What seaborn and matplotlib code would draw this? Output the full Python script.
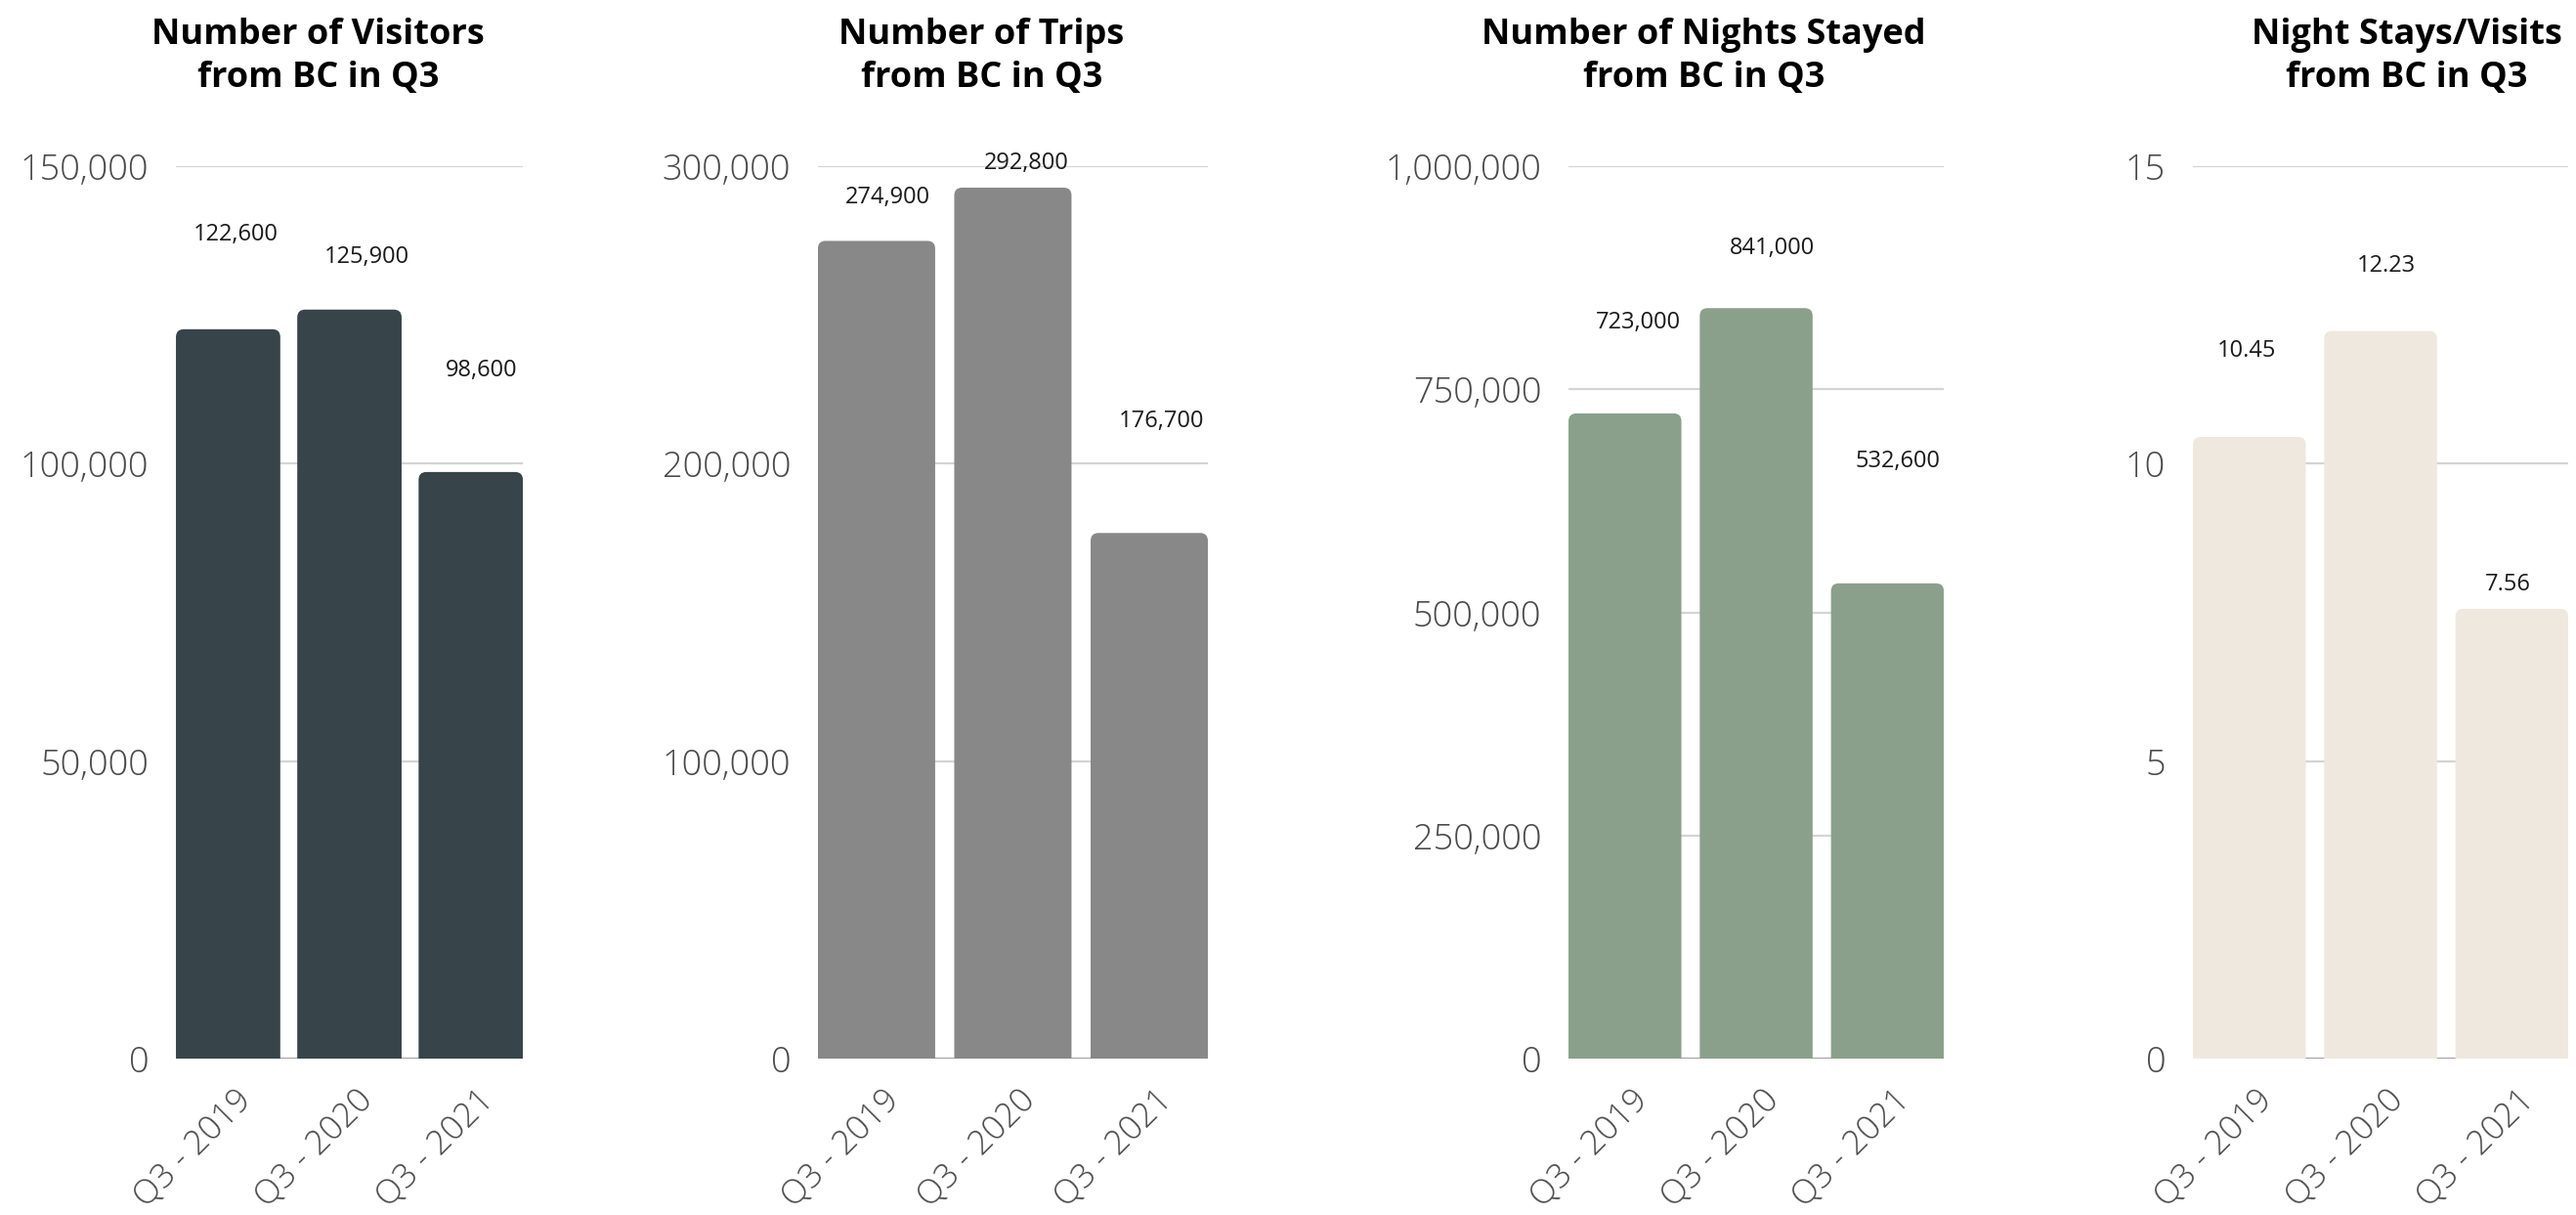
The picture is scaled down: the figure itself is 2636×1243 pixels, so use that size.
import matplotlib
matplotlib.use("Agg")
import matplotlib.pyplot as plt
import matplotlib.transforms as mtransforms
import numpy as np
import seaborn as sns
from matplotlib.patches import FancyBboxPatch
from matplotlib.ticker import FuncFormatter

# data
periods = ["Q3 - 2019", "Q3 - 2020", "Q3 - 2021"]
visitors = [122600, 125900, 98600]
trips = [274900, 292800, 176700]
nights = [723000, 841000, 532600]
nights_per_visit = [10.45, 12.23, 7.56]

titles = [
    "Number of Visitors\nfrom BC in Q3",
    "Number of Trips\nfrom BC in Q3",
    "Number of Nights Stayed\nfrom BC in Q3",
    "Night Stays/Visits\nfrom BC in Q3",
]
value_labels = [
    ["122,600", "125,900", "98,600"],
    ["274,900", "292,800", "176,700"],
    ["723,000", "841,000", "532,600"],
    ["10.45", "12.23", "7.56"],
]
y_ticks = [
    [0, 50000, 100000, 150000],
    [0, 100000, 200000, 300000],
    [0, 250000, 500000, 750000, 1000000],
    [0, 5, 10, 15],
]

# styling / layout
colors = ["#37454a", "#888888", "#8aa08a", "#efe8df"]
axes_pos = [
    [0.0683, 0.1287, 0.1347, 0.7345],
    [0.3175, 0.1287, 0.1514, 0.7345],
    [0.6089, 0.1287, 0.1457, 0.7345],
    [0.8513, 0.1287, 0.1457, 0.7345],
]
title_x = [0.41, 0.42, 0.36, 0.57]
# label offsets (points) from bar top centre
label_dx = [[6, 13, 8], [8, 10, 9], [10, 12, 8], [-2, 4, -3]]
label_dy = [[70, 39, 75], [32, 18, 82], [67, 44, 90], [63, 48, 18]]
bar_width = 0.86

sns.set_theme(style="white")
plt.rcParams["font.family"] = ["Open Sans", "DejaVu Sans"]

fig = plt.figure(figsize=(26.36, 12.43), dpi=100)

series = [visitors, trips, nights, nights_per_visit]
xlab_shift = mtransforms.ScaledTranslation(18 / 100, -18 / 100, fig.dpi_scale_trans)

for i, vals in enumerate(series):
    ax = fig.add_axes(axes_pos[i])
    sns.barplot(x=periods, y=vals, color=colors[i], width=bar_width,
                saturation=1, ax=ax, zorder=2)
    ax.set_xlim(-bar_width / 2, len(periods) - 1 + bar_width / 2)
    ax.set_ylim(0, y_ticks[i][-1])
    ax.set_yticks(y_ticks[i])
    if i < 3:
        ax.yaxis.set_major_formatter(FuncFormatter(lambda v, p: f"{int(v):,}"))
    ax.grid(axis="y", color="#d4d4d4", linewidth=1.6)
    ax.set_axisbelow(True)
    for s in ax.spines.values():
        s.set_visible(False)
    ax.axhline(0, color="#9a9a9a", linewidth=2, zorder=1)

    ax.tick_params(axis="y", length=0, pad=20, labelsize=26, labelcolor="#4a4a4a")
    ax.tick_params(axis="x", length=0, pad=14, labelsize=25, labelcolor="#4a4a4a")
    for lab in ax.get_yticklabels():
        lab.set_fontweight("light")
    for lab in ax.get_xticklabels():
        lab.set_rotation(45)
        lab.set_ha("right")
        lab.set_va("center")
        lab.set_rotation_mode("anchor")
        lab.set_fontweight("light")
        lab.set_transform(lab.get_transform() + xlab_shift)

    ax.set_title(titles[i], fontsize=26, fontweight="bold", color="black",
                 x=title_x[i], pad=58, linespacing=1.3)

    # rounded bar tops
    fig.canvas.draw()
    bb = ax.get_window_extent()
    x0, x1 = ax.get_xlim()
    y0, y1 = ax.get_ylim()
    radius = 8
    rx = radius * (x1 - x0) / bb.width
    ry = radius * (y1 - y0) / bb.height
    for p in list(ax.patches):
        x, y, w, h = p.get_x(), p.get_y(), p.get_width(), p.get_height()
        p.remove()
        ax.add_patch(FancyBboxPatch((x, y - ry), w, h + ry,
                                    boxstyle=f"round,pad=0,rounding_size={rx}",
                                    mutation_aspect=ry / rx,
                                    facecolor=colors[i], edgecolor="none", zorder=2))

    for j, v in enumerate(vals):
        ax.annotate(value_labels[i][j], xy=(j, v), xytext=(label_dx[i][j], label_dy[i][j]),
                    textcoords="offset points", ha="center", va="center",
                    fontsize=17, color="#1a1a1a", annotation_clip=False)
    ax.set_xlabel("")
    ax.set_ylabel("")

fig.savefig("out.png", dpi=100)
